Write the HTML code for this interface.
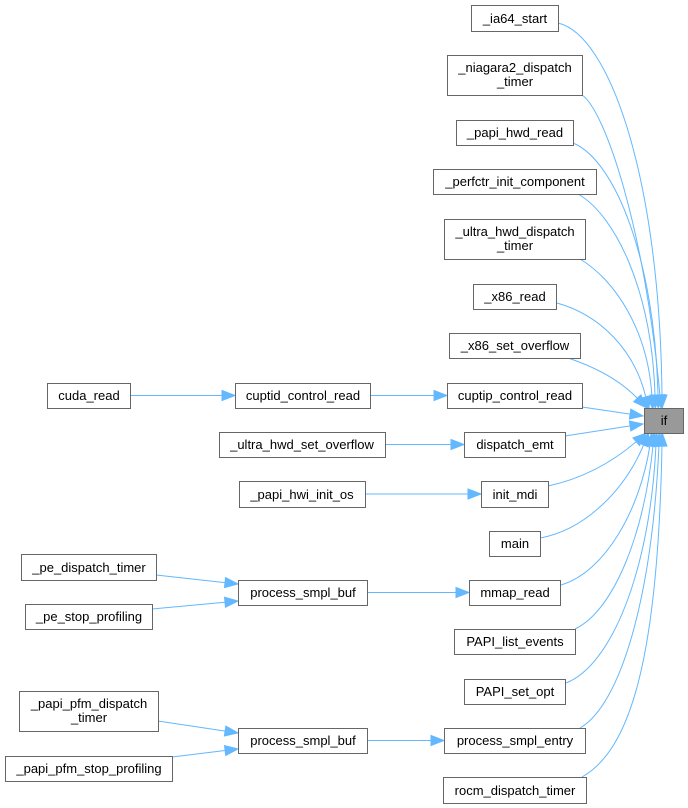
<!DOCTYPE html>
<html><head><meta charset="utf-8"><style>
html,body{margin:0;padding:0;background:#fff;}
svg{display:block;}
text{font-family:"Liberation Sans",Arial,sans-serif;font-size:13px;fill:#000;}
</style></head><body>
<svg width="688" height="808" viewBox="0 0 688 808" xmlns="http://www.w3.org/2000/svg">
<defs>
<marker id="a" markerUnits="userSpaceOnUse" markerWidth="15" markerHeight="12" refX="1" refY="5" orient="auto" overflow="visible">
<path d="M0,0 L13,5 L0,10 z" fill="#63b8ff" stroke="#63b8ff" stroke-width="1"/>
</marker>
</defs>
<g fill="none" stroke="#63b8ff" stroke-width="1" marker-end="url(#a)">
<!-- top group -->
<path d="M558,23 C610,35 660,180 662,396"/>
<path d="M582,95 C605,110 645,230 660,396"/>
<path d="M573,143 C615,160 655,260 658,396"/>
<path d="M578,194 C615,215 652,290 655,396"/>
<path d="M580,259 C615,280 648,330 652,397"/>
<path d="M557,303 C600,315 635,350 646,398"/>
<path d="M568,358 C595,367 620,380 638,399"/>
<!-- left group -->
<path d="M582,407 L631.1,414.2"/>
<path d="M565,436 L631.1,425.8"/>
<!-- bottom group -->
<path d="M548,486 C585,478 615,460 637,441"/>
<path d="M540,538 C585,530 625,490 644,444"/>
<path d="M561,585 C605,572 640,510 650,445"/>
<path d="M575,629 C615,610 645,530 653,445"/>
<path d="M566,683 C612,665 650,570 656,445"/>
<path d="M580,728 C620,705 652,600 659,445"/>
<path d="M582,777 C630,750 658,660 662,445"/>
<!-- left side edges -->
<path d="M130,395.5 L223,395.5"/>
<path d="M370,395.5 L435,395.5"/>
<path d="M385,444.5 L452,444.5"/>
<path d="M365,494 L469,494"/>
<path d="M367,592.5 L457,592.5"/>
<path d="M367,740.5 L432,740.5"/>
<path d="M156,575 L226,582.7"/>
<path d="M152,609 L226,602.1"/>
<path d="M158,721 L226.1,731.2"/>
<path d="M172,757 L226.1,750.4"/>
</g>
<g stroke="#666" stroke-width="1" fill="#fff">
<rect x="471.5" y="5.5" width="87" height="26"/>
<rect x="447.5" y="55.5" width="135" height="40"/>
<rect x="456.5" y="120.5" width="117" height="25"/>
<rect x="433.5" y="169.5" width="163" height="25"/>
<rect x="444.5" y="219.5" width="141" height="40"/>
<rect x="473.5" y="284.5" width="83" height="25"/>
<rect x="449.5" y="333.5" width="131" height="25"/>
<rect x="447.5" y="383.5" width="135" height="25"/>
<rect x="644.5" y="408.5" width="39" height="25" fill="#999"/>
<rect x="464.5" y="432.5" width="101" height="25"/>
<rect x="481.5" y="481.5" width="67" height="26"/>
<rect x="489.5" y="531.5" width="51" height="25"/>
<rect x="469.5" y="580.5" width="91" height="25"/>
<rect x="454.5" y="629.5" width="121" height="25"/>
<rect x="464.5" y="679.5" width="101" height="25"/>
<rect x="444.5" y="728.5" width="141" height="25"/>
<rect x="443.5" y="777.5" width="143" height="26"/>
<rect x="47.5" y="383.5" width="83" height="25"/>
<rect x="235.5" y="383.5" width="135" height="25"/>
<rect x="219.5" y="432.5" width="166" height="25"/>
<rect x="239.5" y="481.5" width="126" height="26"/>
<rect x="21.5" y="554.5" width="135" height="26"/>
<rect x="238.5" y="580.5" width="129" height="25"/>
<rect x="25.5" y="604.5" width="127" height="25"/>
<rect x="19.5" y="691.5" width="139" height="40"/>
<rect x="238.5" y="728.5" width="129" height="25"/>
<rect x="5.5" y="756.5" width="167" height="25"/>
</g>
<g text-anchor="middle">
<text x="515" y="23">_ia64_start</text>
<text x="515" y="72">_niagara2_dispatch</text>
<text x="515" y="86">_timer</text>
<text x="515" y="137">_papi_hwd_read</text>
<text x="515" y="186">_perfctr_init_component</text>
<text x="515" y="236">_ultra_hwd_dispatch</text>
<text x="515" y="250">_timer</text>
<text x="515" y="301">_x86_read</text>
<text x="515" y="350">_x86_set_overflow</text>
<text x="515" y="400">cuptip_control_read</text>
<text x="664" y="425">if</text>
<text x="515" y="449">dispatch_emt</text>
<text x="515" y="499">init_mdi</text>
<text x="515" y="548">main</text>
<text x="515" y="597">mmap_read</text>
<text x="515" y="646">PAPI_list_events</text>
<text x="515" y="696">PAPI_set_opt</text>
<text x="515" y="745">process_smpl_entry</text>
<text x="515" y="795">rocm_dispatch_timer</text>
<text x="89" y="400">cuda_read</text>
<text x="303" y="400">cuptid_control_read</text>
<text x="302" y="449">_ultra_hwd_set_overflow</text>
<text x="302" y="499">_papi_hwi_init_os</text>
<text x="89" y="572">_pe_dispatch_timer</text>
<text x="303" y="597">process_smpl_buf</text>
<text x="89" y="621">_pe_stop_profiling</text>
<text x="89" y="708">_papi_pfm_dispatch</text>
<text x="89" y="722">_timer</text>
<text x="303" y="745">process_smpl_buf</text>
<text x="89" y="773">_papi_pfm_stop_profiling</text>
</g>
</svg>
</body></html>
